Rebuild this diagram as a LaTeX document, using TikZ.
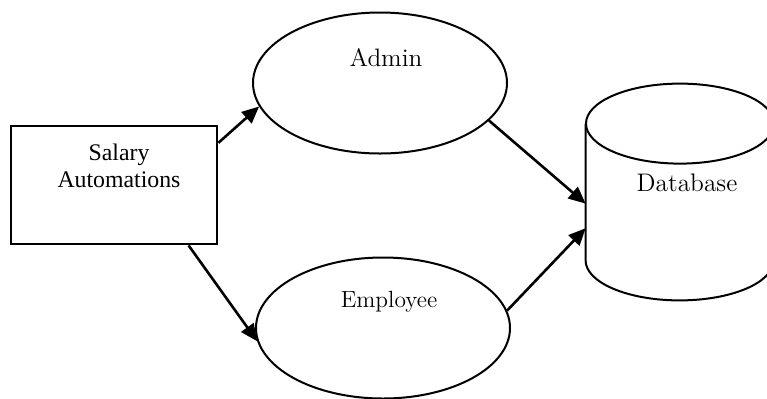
\documentclass[tikz,border=0pt]{standalone}
\usepackage{fontspec}
\newfontfamily\timesfont{Liberation Serif}
\usetikzlibrary{shapes.geometric,arrows.meta}
\tikzset{>={Triangle[length=8.5pt,width=7.5pt]}}
\tikzset{%
    process/.style={draw, rectangle, line width=1.4pt,
        minimum width=103pt, minimum height=59pt, inner sep=0pt},
    actor/.style={draw, ellipse, line width=1pt,
        minimum width=127pt, minimum height=70.5pt, inner sep=0pt},
    store/.style={rectangle, minimum width=94pt, minimum height=108pt, inner sep=0pt},
    flow/.style={->, line width=1.3pt}
}
\begin{document}
\begin{tikzpicture}[x=0.5pt,y=-0.5pt]
    \useasboundingbox (0,0) rectangle (767,398);
    % shapes
    \node[process] (salary) at (114,185) {};
    \node[actor] (admin) at (380,83) {};
    \node[actor] (employee) at (383,328) {};
    \node[store] (db) at (680,192) {};
    % database cylinder
    \draw[line width=1pt] ([yshift=-20pt]db.north west) -- ([yshift=20pt]db.south west)
        arc[start angle=180, end angle=360, x radius=47pt, y radius=20pt]
        -- ([yshift=-20pt]db.north east);
    \draw[line width=1pt] ([yshift=-20pt]db.north) ellipse [x radius=47pt, y radius=20pt];
    % texts
    \node[align=center, font=\timesfont\fontsize{11.9}{13.5}\selectfont] (salarytext) at (119,166) {Salary\\Automations};
    \node[font=\fontsize{12.6}{14}\selectfont] (admintext) at (386,58) {Admin};
    \node[font=\fontsize{11.7}{14}\selectfont] (employeetext) at (389,302) {Employee};
    \node[font=\fontsize{12.7}{14}\selectfont] (dbtext) at (687,183) {Database};
    % flows
    \draw[flow] (salary.22) -- (admin.191);
    \draw[flow] (salary.-39) -- (employee.186);
    \draw[flow] (admin.-19) -- (db.187);
    \draw[flow] (employee.8) -- (db.201);
\end{tikzpicture}
\end{document}
